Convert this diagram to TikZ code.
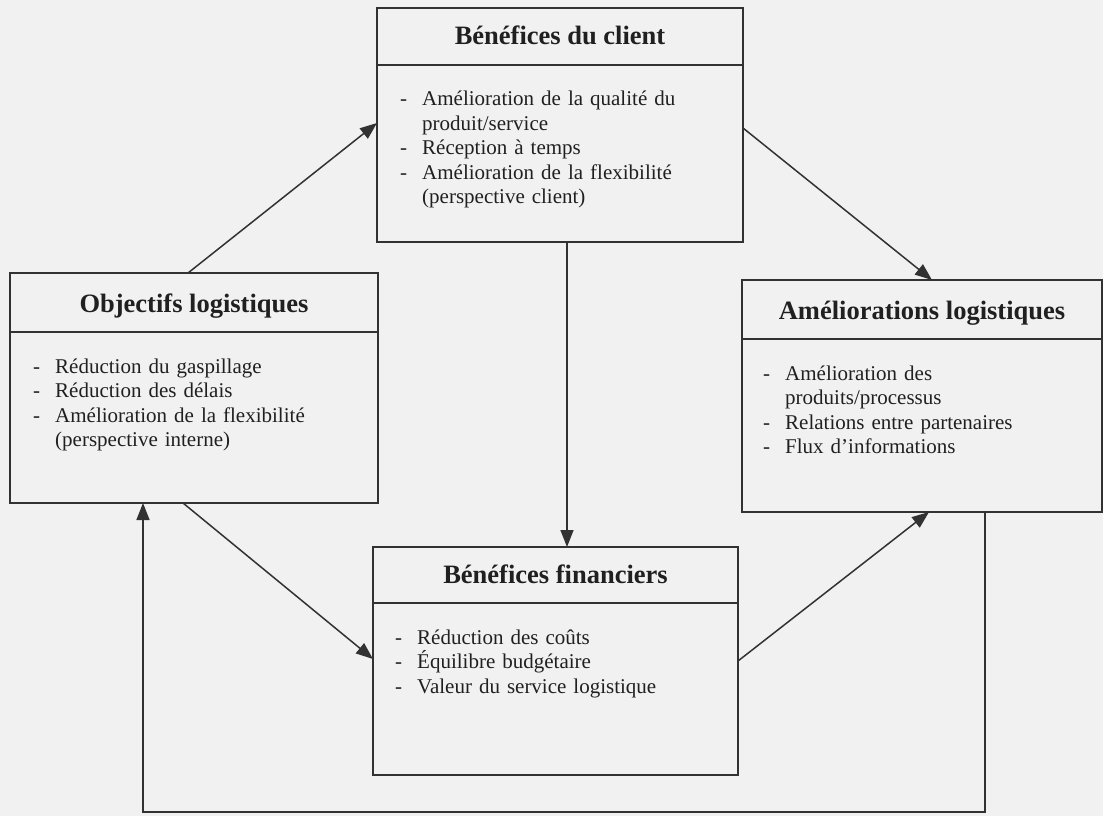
\documentclass[tikz,border=0pt]{standalone}
\usepackage{fontspec}
\setmainfont{Liberation Serif}
\usetikzlibrary{arrows.meta,calc}
\definecolor{bg}{RGB}{241,241,241}
\definecolor{ink}{RGB}{50,50,50}
\definecolor{txt}{RGB}{32,32,32}
\newcommand\dsh{\makebox[22pt][l]{-}}
\newcommand\cnt{\hspace*{22pt}}
\begin{document}
\begin{tikzpicture}[x=1pt,y=-1pt,
  box/.style={draw=ink,line width=1.7pt,rectangle,inner sep=0pt,outer sep=0pt,anchor=north west},
  titletext/.style={anchor=base,font=\fontsize{26.5}{30}\selectfont\bfseries,text=txt,inner sep=0pt},
  bodytext/.style={anchor=base west,font=\fontsize{21}{24.5}\selectfont,text=txt,inner sep=0pt,text width=340pt,align=left},
  arr/.style={draw=ink,line width=1.5pt,-{Triangle[length=17pt,width=13pt]}},
  divl/.style={draw=ink,line width=1.7pt}]
\fill[bg] (0,0) rectangle (1103,816);
\useasboundingbox (0,0) rectangle (1103,816);

% boxes
\node[box,minimum width=366pt,minimum height=234pt] (client) at (377,8) {};
\node[box,minimum width=368pt,minimum height=230pt] (obj) at (10,273) {};
\node[box,minimum width=360pt,minimum height=232pt] (amel) at (742,280) {};
\node[box,minimum width=365pt,minimum height=228pt] (fin) at (373,547) {};

% dividers
\draw[divl] ($(client.north west)+(0,57)$) -- ($(client.north east)+(0,57)$);
\draw[divl] ($(obj.north west)+(0,59)$) -- ($(obj.north east)+(0,59)$);
\draw[divl] ($(amel.north west)+(0,59)$) -- ($(amel.north east)+(0,59)$);
\draw[divl] ($(fin.north west)+(0,56)$) -- ($(fin.north east)+(0,56)$);

% titles
\node[titletext] (clientT) at ($(client.north)+(0,37)$) {Bénéfices du client};
\node[titletext] (objT) at ($(obj.north)+(0,39)$) {Objectifs logistiques};
\node[titletext] (amelT) at ($(amel.north)+(0,39)$) {Améliorations logistiques};
\node[titletext] (finT) at ($(fin.north)+(0,36)$) {Bénéfices financiers};

% bodies
\node[bodytext] (clientB) at ($(client.north west)+(23,98)$) {\dsh Amélioration de la qualité du\\ \cnt produit/service\\ \dsh Réception à temps\\ \dsh Amélioration de la flexibilité\\ \cnt (perspective client)};
\node[bodytext] (objB) at ($(obj.north west)+(23,100)$) {\dsh Réduction du gaspillage\\ \dsh Réduction des délais\\ \dsh Amélioration de la flexibilité\\ \cnt (perspective interne)};
\node[bodytext] (amelB) at ($(amel.north west)+(21,100)$) {\dsh Amélioration des\\ \cnt produits/processus\\ \dsh Relations entre partenaires\\ \dsh Flux d’informations};
\node[bodytext] (finB) at ($(fin.north west)+(22,97)$) {\dsh Réduction des coûts\\ \dsh Équilibre budgétaire\\ \dsh Valeur du service logistique};

% connectors
\draw[arr] ($(obj.north west)+(178,0)$) -- ($(client.north west)+(0,115)$);
\draw[arr] ($(client.north east)+(0,120)$) -- ($(amel.north west)+(190,0)$);
\draw[arr] ($(client.south west)+(190,0)$) -- ($(fin.north west)+(194,0)$);
\draw[arr] ($(obj.south west)+(173,0)$) -- ($(fin.north west)+(0,112)$);
\draw[arr] ($(fin.north east)+(0,114)$) -- ($(amel.south west)+(187,0)$);
\coordinate (loopR) at ($(amel.south west)+(243,300)$);
\coordinate (loopL) at ($(obj.south west)+(133,309)$);
\draw[arr] ($(amel.south west)+(243,0)$) -- (loopR) -- (loopL) -- ($(obj.south west)+(133,0)$);
\end{tikzpicture}
\end{document}
